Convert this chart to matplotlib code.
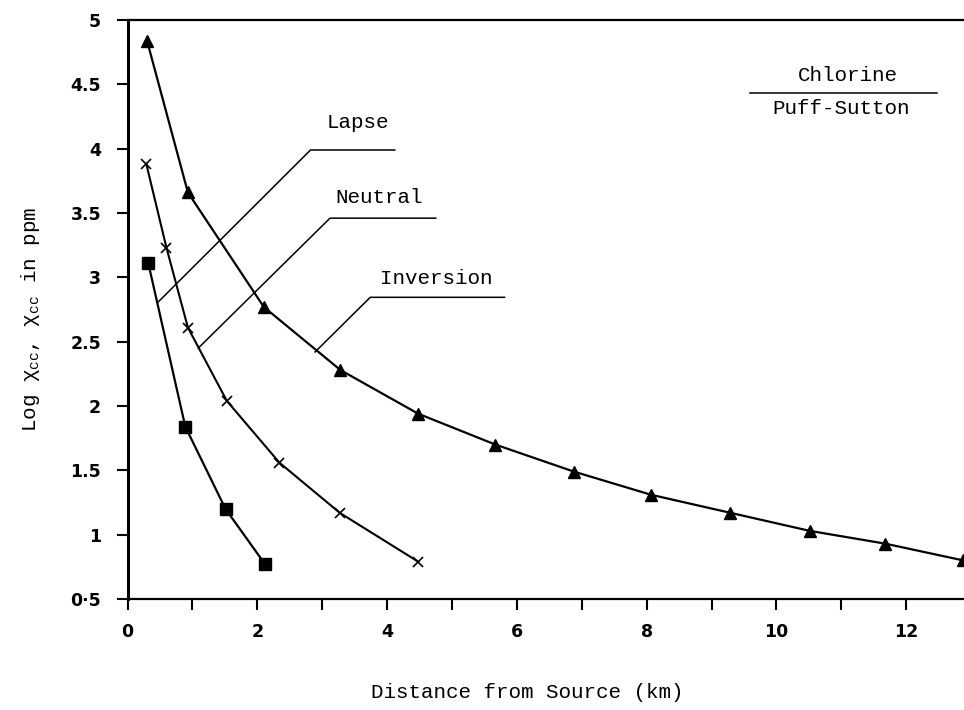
import matplotlib
matplotlib.use('Agg')
import matplotlib.pyplot as plt
from matplotlib.ticker import MultipleLocator, FixedLocator

# distance (km) / log concentration
inv_x = [0.3, 0.93, 2.1, 3.28, 4.48, 5.67, 6.88, 8.07, 9.29, 10.51, 11.68, 12.88]
inv_y = [4.84, 3.66, 2.77, 2.28, 1.94, 1.70, 1.49, 1.31, 1.17, 1.03, 0.93, 0.80]

neu_x = [0.29, 0.6, 0.93, 1.53, 2.34, 3.27, 4.48]
neu_y = [3.88, 3.23, 2.61, 2.04, 1.56, 1.17, 0.79]

lap_x = [0.32, 0.89, 1.51, 2.12]
lap_y = [3.11, 1.84, 1.20, 0.77]

y_ticks = [0.5, 1, 1.5, 2, 2.5, 3, 3.5, 4, 4.5, 5]
y_labels = ['0·5', '1', '1.5', '2', '2.5', '3', '3.5', '4', '4.5', '5']
x_ticks = [0, 2, 4, 6, 8, 10, 12]
x_labels = ['0', '2', '4', '6', '8', '10', '12']

# leader lines: (end on curve, elbow, end of underline), label
leaders = [
    ('Lapse', (0.475, 2.81), (2.82, 3.99), (4.12, 3.99), (3.55, 4.2)),
    ('Neutral', (1.09, 2.45), (3.12, 3.46), (4.75, 3.46), (3.88, 3.62)),
    ('Inversion', (2.89, 2.42), (3.74, 2.845), (5.81, 2.845), (4.76, 2.99)),
]

mono = ['Liberation Mono', 'DejaVu Sans Mono']

fig = plt.figure(figsize=(9.64, 7.10), dpi=100)
ax = fig.add_axes([0.1323, 0.1563, 0.8677, 0.8155])

ax.plot(inv_x, inv_y, color='black', lw=1.6, marker='^', ms=9, mec='black', mfc='black')
ax.plot(neu_x, neu_y, color='black', lw=1.5, marker='x', ms=7, mew=1.2, mec='black')
ax.plot(lap_x, lap_y, color='black', lw=1.6, marker='s', ms=8.5, mec='black', mfc='black')

for name, p0, p1, p2, tp in leaders:
    ax.plot([p0[0], p1[0], p2[0]], [p0[1], p1[1], p2[1]], color='black', lw=1.1)
    ax.text(tp[0], tp[1], name, family=mono, fontsize=15, ha='center', va='center')

ax.plot([9.59, 12.48], [4.43, 4.43], color='black', lw=1.1)
ax.text(11.1, 4.57, 'Chlorine', family=mono, fontsize=15, ha='center', va='center')
ax.text(11.0, 4.31, 'Puff-Sutton', family=mono, fontsize=15, ha='center', va='center')

ax.set_xlim(0, 12.89)
ax.set_ylim(0.5, 5)

ax.xaxis.set_major_locator(FixedLocator(x_ticks))
ax.set_xticklabels(x_labels)
ax.xaxis.set_minor_locator(MultipleLocator(1))
ax.yaxis.set_major_locator(FixedLocator(y_ticks))
ax.set_yticklabels(y_labels)

ax.tick_params(axis='both', which='both', direction='out', length=8, width=1.5)
ax.tick_params(axis='x', pad=9)
ax.tick_params(axis='y', pad=11)
for lab in ax.get_xticklabels() + ax.get_yticklabels():
    lab.set_fontweight('bold')
    lab.set_fontsize(12.5)
    lab.set_family('DejaVu Sans')

ax.spines['right'].set_visible(False)
ax.spines['left'].set_linewidth(2.2)
ax.spines['bottom'].set_linewidth(1.6)
ax.spines['top'].set_linewidth(1.6)

fig.text(0.547, 0.025, 'Distance from Source (km)', family=mono, fontsize=15,
         ha='center', va='center')
fig.text(0.032, 0.55, r'Log $\mathregular{\chi_{cc}}$, $\mathregular{\chi_{cc}}$ in ppm',
         family=mono, fontsize=15, rotation=90, ha='center', va='center')

plt.savefig('out.png', dpi=100)
